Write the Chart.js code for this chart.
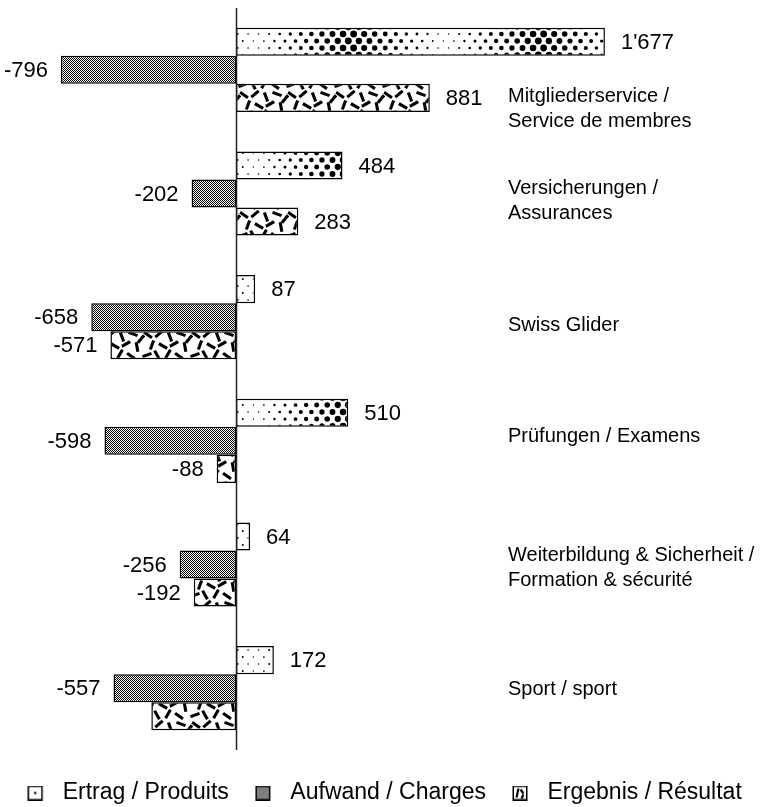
<!DOCTYPE html>
<html><head><meta charset="utf-8">
<script src="https://cdn.jsdelivr.net/npm/chart.js@4.4.1/dist/chart.umd.min.js"></script>
<style>html,body{margin:0;padding:0;background:#fff}#wrap{width:769px;height:807px}</style>
</head><body><div id="wrap"><canvas id="c" width="769" height="807"></canvas></div>
<script>
// ---- data ----
const categories = [
  ["Mitgliederservice /", "Service de membres"],
  ["Versicherungen /", "Assurances"],
  ["Swiss Glider"],
  ["Prüfungen / Examens"],
  ["Weiterbildung & Sicherheit /", "Formation & sécurité"],
  ["Sport / sport"]
];
const seriesNames = ["Ertrag / Produits", "Aufwand / Charges", "Ergebnis / Résultat"];
const ertrag   = [1677, 484, 87, 510, 64, 172];
const aufwand  = [-796, -202, -658, -598, -256, -557];
const ergebnis = [881, 283, -571, -88, -192, -385];
const hiddenLabels = [[2, 5]]; // value label not printed in the original

// ---- style ----
const LABEL_FONT = '22px "Liberation Sans", Arial, Helvetica, sans-serif';
const CAT_FONT = '20px "Liberation Sans", Arial, Helvetica, sans-serif';
const LEGEND_FAMILY = '"Liberation Sans", Arial, sans-serif';
const CAT_X = 508;
const CAT_SHIFT = [39, 7, 8, -4, 3, 1];
const ICON_W = 24;

function mk(w, h) { const c = document.createElement('canvas'); c.width = w; c.height = h; return c; }

// dotted pattern, dot size varying across x
function dotPattern(ctx) {
  const W = 190, H = 14, n = 18, sp = W / n;
  const c = mk(W, H), g = c.getContext('2d');
  g.fillStyle = '#fff'; g.fillRect(0, 0, W, H);
  g.fillStyle = '#000';
  const phase = 255 % W;
  const rows = [{y: 13, off: 0}, {y: 6, off: sp / 2}];
  rows.forEach(r => {
    for (let i = 0; i < n; i++) {
      const cx = i * sp + r.off;
      const d = (((cx - phase) % W) + W) % W;
      const f = 1 - Math.abs(d - W / 2) / (W / 2);
      const rad = 0.6 + 2.9 * f;
      for (const dx of [-W, 0, W]) for (const dy of [-H, 0, H]) {
        g.beginPath(); g.arc(cx + dx, r.y + dy, rad, 0, Math.PI * 2); g.fill();
      }
    }
  });
  return ctx.createPattern(c, 'repeat');
}
function checkerCanvas() {
  const c = mk(2, 2), g = c.getContext('2d');
  g.fillStyle = '#fff'; g.fillRect(0, 0, 2, 2);
  g.fillStyle = '#000'; g.fillRect(0, 0, 1, 1); g.fillRect(1, 1, 1, 1);
  return c;
}
const DASHES = [[4,5,35],[15,4,-40],[26,7,70],[37,4,20],[8,15,-70],[19,16,30],[30,14,-30],[41,17,80],[3,25,-20],[13,25,60],[24,24,-60],[35,26,35],[45,9,-50]];
function dashCanvas() {
  const W = 48, H = 30;
  const c = mk(W, H), g = c.getContext('2d');
  g.fillStyle = '#fff'; g.fillRect(0, 0, W, H);
  g.strokeStyle = '#000'; g.lineWidth = 3.1; g.lineCap = 'butt';
  DASHES.forEach(([x, y, a]) => {
    const r = a * Math.PI / 180, L = 4.8;
    for (const dx of [-W, 0, W]) for (const dy of [-H, 0, H]) {
      g.beginPath();
      g.moveTo(x + dx - L * Math.cos(r), y + dy - L * Math.sin(r));
      g.lineTo(x + dx + L * Math.cos(r), y + dy + L * Math.sin(r));
      g.stroke();
    }
  });
  return c;
}
// legend icon: 15px framed swatch on the right of the point-style box
function legendIcon(kind) {
  const S = 15, W = ICON_W, ox = W - 23.5;
  const c = mk(W, S), g = c.getContext('2d');
  g.translate(ox, 0);
  g.fillStyle = '#fff'; g.fillRect(0, 0, S, S);
  if (kind === 1) { g.fillStyle = g.createPattern(checkerCanvas(), 'repeat'); g.fillRect(1, 1, S - 2, S - 2); }
  g.fillStyle = '#000';
  if (kind === 0) { g.beginPath(); g.arc(S / 2, S / 2, 1.2, 0, Math.PI * 2); g.fill(); }
  if (kind === 2) {
    g.strokeStyle = '#000'; g.lineWidth = 2.2;
    g.beginPath(); g.moveTo(4, 12); g.lineTo(6, 3); g.stroke();
    g.beginPath(); g.moveTo(8, 4); g.lineTo(11, 8); g.stroke();
    g.beginPath(); g.moveTo(11, 9); g.lineTo(9, 13); g.stroke();
  }
  g.strokeStyle = '#000'; g.lineWidth = 1.5; g.strokeRect(0.75, 0.75, S - 1.5, S - 1.5);
  return c;
}

function fmt(v) {
  const s = Math.abs(v).toString().replace(/\B(?=(\d{3})+(?!\d))/g, "'");
  return (v < 0 ? '-' : '') + s;
}

const valueLabels = {
  id: 'valueLabels',
  afterDatasetsDraw(chart) {
    const ctx = chart.ctx; ctx.save();
    ctx.font = LABEL_FONT; ctx.fillStyle = '#000'; ctx.textBaseline = 'middle';
    chart.data.datasets.forEach((ds, di) => {
      chart.getDatasetMeta(di).data.forEach((el, i) => {
        if (hiddenLabels.some(h => h[0] === di && h[1] === i)) return;
        const v = ds.data[i];
        if (v >= 0) { ctx.textAlign = 'left'; ctx.fillText(fmt(v), el.x + 16, el.y + 1); }
        else { ctx.textAlign = 'right'; ctx.fillText(fmt(v), el.x - 13, el.y + 1); }
      });
    });
    ctx.restore();
  }
};
const catLabels = {
  id: 'catLabels',
  afterDraw(chart) {
    const ctx = chart.ctx, ys = chart.scales.y; ctx.save();
    ctx.font = CAT_FONT; ctx.fillStyle = '#000'; ctx.textBaseline = 'middle'; ctx.textAlign = 'left';
    chart.data.labels.forEach((lab, i) => {
      const lines = Array.isArray(lab) ? lab : [lab];
      const yc = ys.getPixelForValue(i) + CAT_SHIFT[i];
      const lh = 25;
      lines.forEach((t, k) => ctx.fillText(t, CAT_X, yc + (k - (lines.length - 1) / 2) * lh));
    });
    ctx.restore();
  }
};
const zeroLine = {
  id: 'zeroLine',
  afterDatasetsDraw(chart) {
    const ctx = chart.ctx, xs = chart.scales.x, a = chart.chartArea;
    const x = Math.round(xs.getPixelForValue(0)) + 0.5;
    ctx.save(); ctx.strokeStyle = '#222'; ctx.lineWidth = 1.5;
    ctx.beginPath(); ctx.moveTo(x, a.top); ctx.lineTo(x, a.bottom); ctx.stroke();
    ctx.restore();
  }
};

const canvas = document.getElementById('c');
const ctx = canvas.getContext('2d');
const fills = [dotPattern(ctx), ctx.createPattern(checkerCanvas(), 'repeat'), ctx.createPattern(dashCanvas(), 'repeat')];
const icons = [legendIcon(0), legendIcon(1), legendIcon(2)];
const series = [ertrag, aufwand, ergebnis];

new Chart(ctx, {
  type: 'bar',
  data: {
    labels: categories,
    datasets: series.map((d, i) => ({
      label: seriesNames[i], data: d, backgroundColor: fills[i],
      borderColor: '#000', borderWidth: 1.5, borderSkipped: false,
      categoryPercentage: 0.68, barPercentage: 1
    }))
  },
  options: {
    indexAxis: 'y', responsive: false, animation: false,
    layout: { padding: { left: 0, right: 0, top: 8, bottom: -7.5 } },
    scales: {
      x: { type: 'linear', min: -1073, max: 2423, display: false },
      y: { display: false }
    },
    plugins: {
      tooltip: { enabled: false },
      legend: {
        position: 'bottom',
        title: { display: true, text: '', font: { size: 1, lineHeight: 1.2 }, padding: { top: 4.3, bottom: 0 } },
        labels: {
          usePointStyle: true, pointStyleWidth: ICON_W, padding: 26,
          color: '#000', font: { family: LEGEND_FAMILY, size: 23 },
          generateLabels: (chart) => chart.data.datasets.map((ds, i) => ({
            text: ds.label, pointStyle: icons[i], fillStyle: '#fff', strokeStyle: '#000',
            lineWidth: 0, hidden: false, datasetIndex: i, fontColor: '#000'
          }))
        }
      }
    }
  },
  plugins: [valueLabels, catLabels, zeroLine]
});
</script></body></html>
